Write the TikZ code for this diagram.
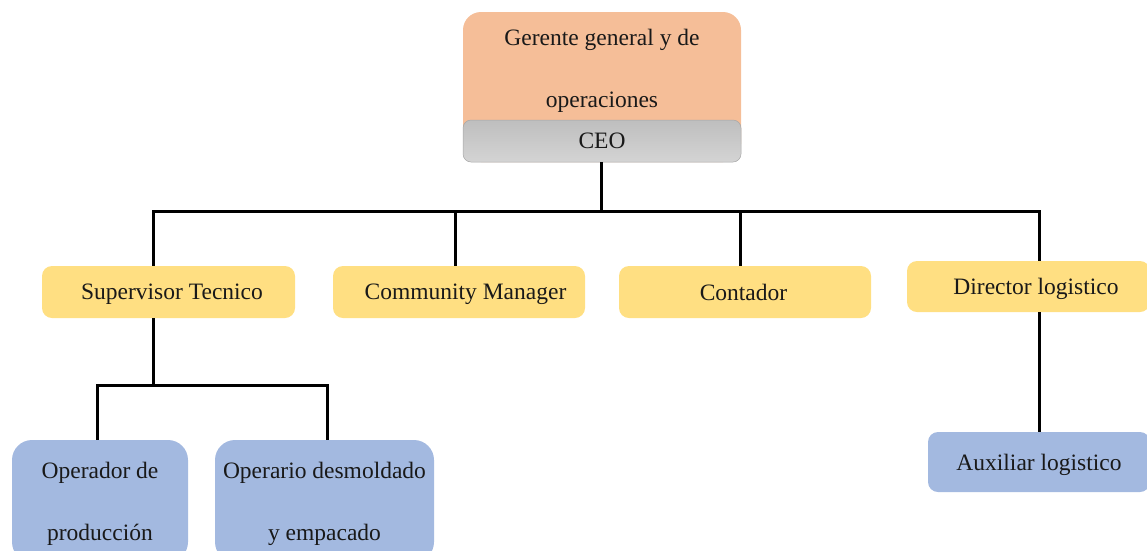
\documentclass[tikz,border=0pt]{standalone}
\usepackage{fontspec}
\setmainfont{Liberation Serif}
\definecolor{peach}{HTML}{F5BE98}
\definecolor{ceotop}{HTML}{BEBEBE}
\definecolor{ceobot}{HTML}{D4D4D4}
\definecolor{mango}{HTML}{FFDF82}
\definecolor{sky}{HTML}{A3B9E0}
\tikzset{
  every node/.style={font=\fontsize{23.5}{62}\selectfont,text=black!90,align=center},
  box/.style={rectangle,inner sep=3pt,text depth=0pt},
  jefe/.style={box,fill=peach,rounded corners=18pt,minimum width=278pt,minimum height=150pt},
  ceobox/.style={box,top color=ceotop,bottom color=ceobot,draw=gray!70,line width=0.5pt,
    rounded corners=8pt,minimum width=278pt,minimum height=42pt},
  mando/.style={box,fill=mango,rounded corners=10pt,minimum height=52pt},
  base/.style={box,fill=sky,rounded corners=20pt,minimum height=122pt},
  wire/.style={line width=3pt,black}
}
\begin{document}
\begin{tikzpicture}[x=1pt,y=-1pt]
\clip (0,0) rectangle (1147,550);
\node[jefe,text depth=38pt] (gerente) at (602,87) {Gerente general y de\\operaciones};
\node[ceobox] (ceo) at (602,141) {CEO};
\node[mando,minimum width=253pt] (super) at (168.5,292) {\hspace*{7pt}Supervisor Tecnico};
\node[mando,minimum width=252pt] (community) at (459,292) {\hspace*{13pt}Community Manager};
\node[mando,minimum width=252pt] (contador) at (745,292) {Contador\hspace*{3pt}};
\node[mando,minimum width=243pt,minimum height=51pt] (director) at (1028.5,286.5) {\hspace*{15pt}Director logistico};
\node[base,minimum width=176pt] (operador) at (100,501) {Operador de\\producción};
\node[base,minimum width=219pt] (operario) at (324.5,501) {Operario desmoldado\\y empacado};
\node[box,fill=sky,rounded corners=10pt,minimum width=222pt,minimum height=60pt]
  (auxiliar) at (1039,462) {Auxiliar logistico};
\coordinate (bus) at (601,211);
\coordinate (subbus) at (153,385);
\draw[wire] (ceo.south -| bus) -- (bus);
\foreach \n/\dx in {super/-15.5,community/-4,contador/-5,director/10.5}
  \draw[wire] (bus) -| ([xshift=\dx pt]\n.north);
\draw[wire] ([xshift=-15.5pt]super.south) -- (subbus);
\draw[wire] (subbus) -| ([xshift=-3pt]operador.north);
\draw[wire] (subbus) -| ([xshift=2.5pt]operario.north);
\draw[wire] ([xshift=10.5pt]director.south) -- (auxiliar.north);
\end{tikzpicture}
\end{document}
